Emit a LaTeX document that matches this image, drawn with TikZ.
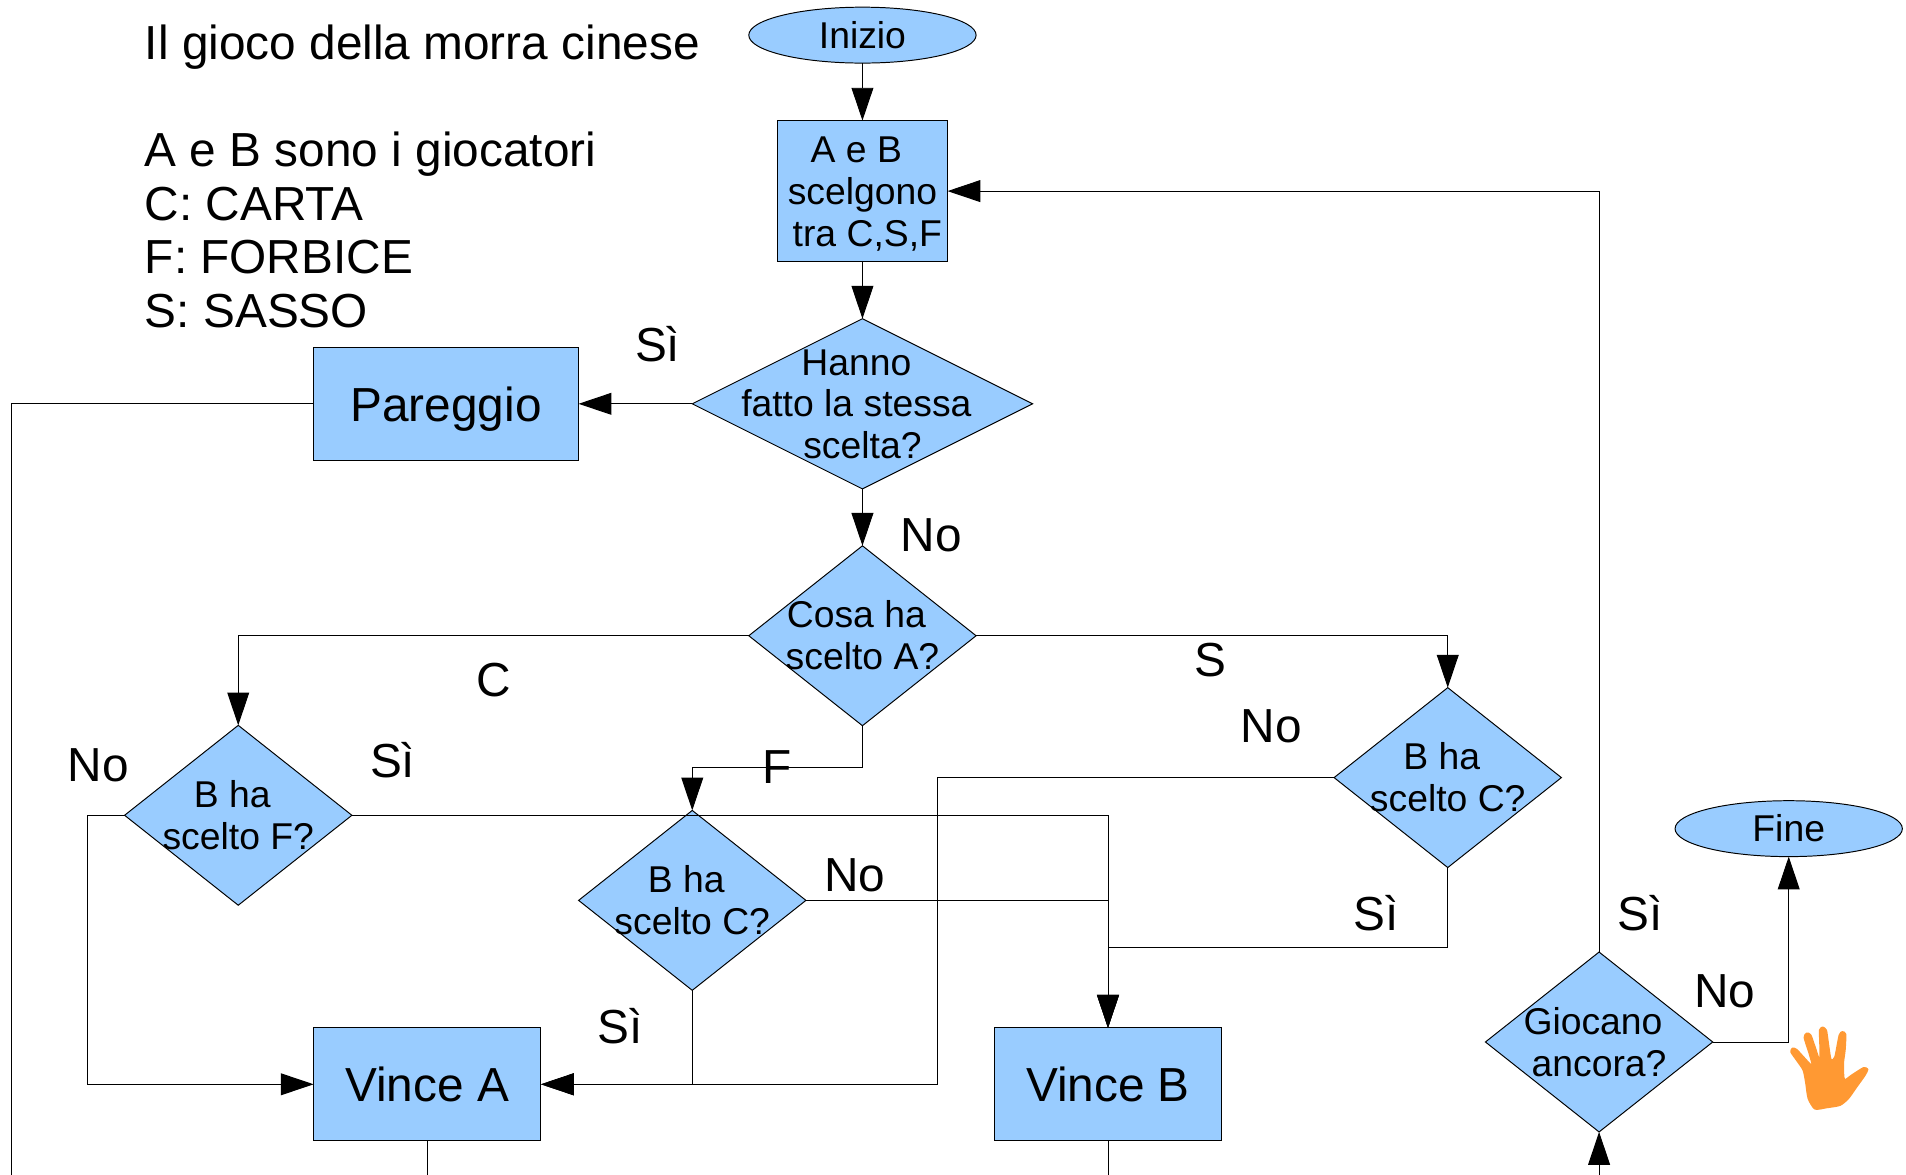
\documentclass[tikz,border=0pt]{standalone}
\usepackage{fontspec}
\setmainfont{Liberation Sans}
\usetikzlibrary{arrows.meta,shapes.geometric}
\definecolor{boxblue}{HTML}{99CCFF}
\definecolor{handorange}{HTML}{FF9933}
% text of a node, without any effect on the size of its shape
\newcommand{\shapetext}[1]{\smash{\makebox[0pt]{\raisebox{-0.33em}{\begin{tabular}{@{}c@{}}#1\end{tabular}}}}}
\newcommand{\bigtext}[1]{\smash{\makebox[0pt]{\raisebox{-0.36em}{#1}}}}
% the blank after a line of text in the reference
\newcommand{\tailgap}{\hspace*{10pt}}
\tikzset{
  shapebase/.style={draw,fill=boxblue,line width=0.8pt,inner sep=0pt,outer sep=0pt,font=\fontsize{30.7}{34.5}\selectfont},
  terminal/.style={shapebase,ellipse,minimum width=187pt,minimum height=46pt},
  decision/.style={shapebase,diamond,minimum width=187pt,minimum height=148pt},
  bigdecision/.style={decision,minimum width=280pt,minimum height=140pt},
  result/.style={shapebase,rectangle,minimum width=187pt,minimum height=93pt,font=\fontsize{39.3}{44}\selectfont},
  lbl/.style={inner sep=0pt,font=\fontsize{39.3}{44}\selectfont},
  flow/.style={line width=0.8pt}
}
\begin{document}
\begin{tikzpicture}[x=1pt,y=-1pt,>={Triangle[length=27pt,width=18pt]}]
    \useasboundingbox (0,-0.2) rectangle (1568,966.4);

    % the text at the top left
    \node[lbl,anchor=north west,align=left] (legend) at (119,20.4) {Il gioco della morra cinese\\[44pt]A e B sono i giocatori\\C: CARTA\\F: FORBICE\\S: SASSO};

    % start and end
    \node[terminal] (inizio) at (709.5,28.7) {\shapetext{Inizio}};
    \node[terminal] (fine) at (1471.5,681.5) {\shapetext{Fine}};

    % the boxes
    \node[shapebase,minimum width=140pt,minimum height=116pt] (scelta) at (709.5,157) {\shapetext{A e B\tailgap\\scelgono\\\hspace*{8pt}tra C,S,F}};
    \node[result,minimum width=218pt] (pareggio) at (367,332) {\bigtext{Pareggio}};
    \node[result] (vincea) at (351.5,891.8) {\bigtext{Vince A}};
    \node[result] (vinceb) at (911.5,891.8) {\bigtext{Vince B}};

    % the decisions
    \node[bigdecision] (stessa) at (709.5,332) {\shapetext{Hanno\tailgap\\fatto la stessa\tailgap\\scelta?}};
    \node[decision] (cosa) at (709.5,522.8) {\shapetext{Cosa ha\tailgap\\scelto A?}};
    \node[decision] (bcarta) at (196,670.5) {\shapetext{B ha\tailgap\\scelto F?}};
    \node[decision] (bforbice) at (569.5,740.5) {\shapetext{B ha\tailgap\\scelto C?}};
    \node[decision] (bsasso) at (1191,639.5) {\shapetext{B ha\tailgap\\scelto C?}};
    \node[decision] (ancora) at (1315.5,857) {\shapetext{Giocano\tailgap\\ancora?}};

    % bends and free ends
    \coordinate (fbend) at (569.5,631);
    \coordinate (nobend) at (72,670.5);
    \coordinate (sibend) at (771.5,891.8);
    \coordinate (sijoin) at (911.5,779);
    \coordinate (parend) at (9.5,967);
    \coordinate (aend) at (351.5,967);
    \coordinate (bend) at (911.5,967);
    \coordinate (ancend) at (1315.5,967);

    % the connectors
    \draw[flow,->] (inizio) -- (scelta);
    \draw[flow,->] (scelta) -- (stessa);
    \draw[flow,->] (stessa) -- (pareggio);
    \draw[flow,->] (stessa) -- (cosa);
    \draw[flow,->] (cosa.west) -| (bcarta.north);
    \draw[flow,->] (cosa.east) -| (bsasso.north);
    \draw[flow,->] (cosa.south) |- (fbend) -- (bforbice.north);
    \draw[flow,->] (bcarta.west) -- (nobend) |- (vincea.west);
    \draw[flow,->] (bcarta.east) -| (vinceb.north);
    \draw[flow,->] (bforbice.east) -| (vinceb.north);
    \draw[flow,->] (bforbice.south) |- (vincea.east);
    \draw[flow,->] (bsasso.west) -| (sibend) -- (vincea.east);
    \draw[flow,->] (bsasso.south) |- (sijoin) -- (vinceb.north);
    \draw[flow,->] (ancora.north) |- (scelta.east);
    \draw[flow,->] (ancora.east) -| (fine.south);
    \draw[flow,->] (ancend) -- (ancora.south);
    \draw[flow] (pareggio.west) -| (parend);
    \draw[flow] (vincea.south) -- (aend);
    \draw[flow] (vinceb.south) -- (bend);

    % the labels on the connectors
    \foreach \i/\x/\y/\txt in {
      1/541/283/Sì,
      2/766/440/No,
      3/406/559/C,
      4/996/543/S,
      5/1046/597/No,
      6/639/631/F,
      7/81/629/No,
      8/323/625/Sì,
      9/703/720/No,
      10/1132/751/Sì,
      11/510/844/Sì,
      12/1349/751/Sì,
      13/1419/815/No
    }
    \node[lbl] (lbl\i) at (\x,\y) {\txt};

    % the hand
    \begin{scope}[shift={(1464.3,839.1)},scale=0.2742]
      \filldraw[handorange,line width=1.2pt,line join=round] plot[smooth cycle,tension=0.4] coordinates {
        (105,266) (85,235) (78,190) (70,150) (50,120) (33,95) (38,84) (50,88) (75,115) (97,137)
        (88,100) (73,52) (80,39) (92,44) (105,80) (120,122)
        (120,70) (119,30) (128,21) (139,30) (145,70) (153,119)
        (165,110) (178,45) (187,35) (197,42) (195,90) (190,130) (193,178)
        (215,165) (250,143) (263,147) (255,165) (230,200) (205,235) (180,255) (140,262)};
    \end{scope}
  \end{tikzpicture}
\end{document}
